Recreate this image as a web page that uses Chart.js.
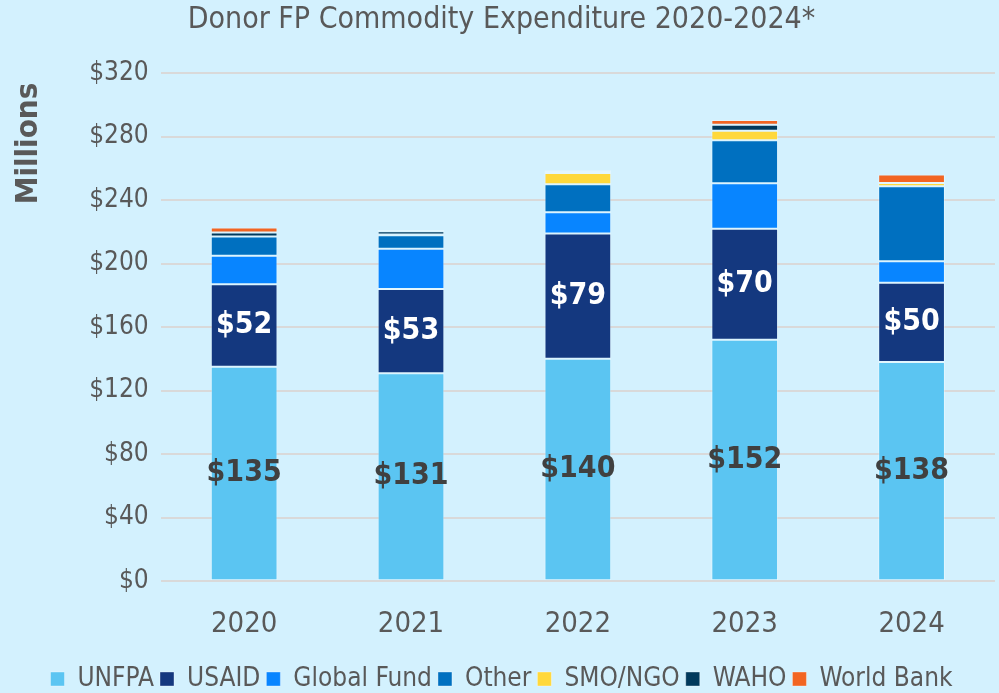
<!DOCTYPE html>
<html><head><meta charset="utf-8">
<script src="https://cdn.jsdelivr.net/npm/chart.js@4"></script>
<style>html,body{margin:0;padding:0;background:#d3f1fe;}#w{width:999px;height:693px;}</style>
</head><body><div id="w"><canvas id="c" width="999" height="693"></canvas></div>
<script>
const years = ["2020","2021","2022","2023","2024"];
const unfpa = [135,131,140,152,138];
const usaid = [52,53,79,70,50];
const globalFund = [18,25.4,13.3,28.6,13.4];
const other = [12,8.4,17.7,27,47.3];
const smoNgo = [0,0.5,7,6,2.1];
const waho = [2.5,2,0.7,3.8,0];
const worldBank = [3.2,0.8,1.1,3,5.3];
const labelSeries = ["UNFPA","USAID"];
const yTicksMax = 320, yStep = 40;

const FONT = "'DejaVu Sans Condensed','DejaVu Sans',sans-serif";
const GRAY = "#595959";

const labelPlugin = {
  id:'segLabels',
  afterDatasetsDraw(chart){
    const ctx = chart.ctx;
    chart.data.datasets.forEach((ds,i)=>{
      if(!labelSeries.includes(ds.label)) return;
      const meta = chart.getDatasetMeta(i);
      meta.data.forEach((bar,j)=>{
        const v = ds.data[j];
        const yc = (bar.y + bar.base)/2;
        ctx.save();
        ctx.font = "bold 30px " + FONT;
        ctx.fillStyle = ds.label==="USAID" ? "#ffffff" : "#404040";
        ctx.textAlign = "center"; ctx.textBaseline = "middle";
        ctx.fillText("$"+Math.round(v), bar.x, yc);
        ctx.restore();
      });
    });
  }
};

const mk = (label,data,color)=>({label,data,backgroundColor:color,borderColor:"rgba(255,255,255,0.35)",borderWidth:1,borderSkipped:false});

new Chart(document.getElementById('c'),{
  type:'bar',
  data:{labels:years,datasets:[
    mk("UNFPA",unfpa,"#5bc5f2"),
    mk("USAID",usaid,"#14387f"),
    mk("Global Fund",globalFund,"#0885ff"),
    mk("Other",other,"#0070c0"),
    mk("SMO/NGO",smoNgo,"#ffd83b"),
    mk("WAHO",waho,"#00395c"),
    mk("World Bank",worldBank,"#f26522")
  ]},
  options:{
    responsive:false,animation:false,
    layout:{padding:{left:8,right:4,top:0,bottom:-9}},
    datasets:{bar:{categoryPercentage:1,barPercentage:0.4}},
    plugins:{
      title:{display:true,text:"Donor FP Commodity Expenditure 2020-2024*",color:GRAY,font:{family:FONT,size:30,weight:'normal'},padding:{top:2,bottom:35}},
      legend:{position:'bottom',labels:{color:GRAY,font:{family:FONT,size:26},boxWidth:14,boxHeight:14,padding:6,useBorderRadius:false}},
      tooltip:{enabled:false}
    },
    scales:{
      x:{stacked:true,grid:{display:false},border:{display:false},ticks:{color:GRAY,font:{family:FONT,size:29},padding:18}},
      y:{stacked:true,min:0,max:yTicksMax,ticks:{stepSize:yStep,color:GRAY,font:{family:FONT,size:26},padding:12,callback:v=>"$"+v},
        grid:{color:"#d9d9d9",lineWidth:2,drawTicks:false},border:{display:false},
        title:{display:true,align:'end',text:"Millions\u00A0",color:GRAY,font:{family:FONT,size:31,weight:'bold'},padding:{top:2,bottom:30}}}
    }
  },
  plugins:[labelPlugin]
});
</script></body></html>
